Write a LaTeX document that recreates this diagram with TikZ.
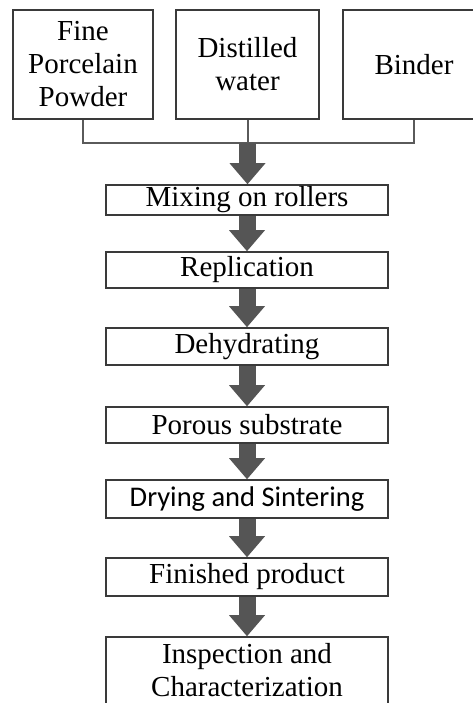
\documentclass[tikz,border=0pt]{standalone}
\usepackage{fontspec}
\setmainfont{Liberation Serif}
\newfontfamily\calibrifont{Carlito}
\usetikzlibrary{arrows.meta}

\definecolor{boxgray}{HTML}{3A3A3A}
\definecolor{linegray}{HTML}{5A5A5A}
\definecolor{arrowgray}{HTML}{555555}

\begin{document}
\begin{tikzpicture}[x=1pt,y=-1pt,
    box/.style = {draw=boxgray, line width=1.6pt, inner sep=0pt, align=center,
                  font=\fontsize{29}{33}\selectfont},
    stepbox/.style = {box, minimum width=282pt},
    feed/.style = {draw=linegray, line width=2pt},
    arrow/.style = {draw=arrowgray, line width=17pt,
                    -{Triangle[width=36pt,length=21pt,line width=0pt]}}]
    \useasboundingbox (0,0) rectangle (473,703);

    % raw materials
    \node [box, minimum width=140pt, minimum height=109pt] (fine) at (83,64.5) {Fine\\Porcelain\\Powder};
    \node [box, minimum width=143pt, minimum height=109pt] (water) at (247.5,64.5) {Distilled\\water};
    \node [box, minimum width=142pt, minimum height=109pt] (binder) at (414,64.5) {Binder};

    \coordinate (join) at (247.5,143);
    \draw[feed] (fine.south) |- (join) -| (binder.south);
    \draw[feed] (water.south) -- (join);

    % process steps
    \node [stepbox, minimum height=30pt] (mix) at (247,200) {Mixing on rollers};
    \node [stepbox, minimum height=36pt] (rep) at (247,270) {Replication};
    \node [stepbox, minimum height=37pt] (dehyd) at (247,346.5) {Dehydrating};
    \node [stepbox, minimum height=36pt] (porous) at (247,425) {Porous substrate};
    \node [stepbox, minimum height=38pt, font=\calibrifont\fontsize{28.5}{33}\selectfont] (drying) at (247,499) {Drying and Sintering};
    \node [stepbox, minimum height=38pt] (finished) at (247,577) {Finished product};
    \node [stepbox, minimum height=76pt, text depth=10pt] (inspect) at (247,675) {Inspection and\\Characterization};

    \draw[arrow] (join) -- (join |- mix.north);
    \foreach \a/\b in {mix/rep, rep/dehyd, dehyd/porous, porous/drying, drying/finished, finished/inspect}
        \draw[arrow] (\a) -- (\b);
\end{tikzpicture}
\end{document}
